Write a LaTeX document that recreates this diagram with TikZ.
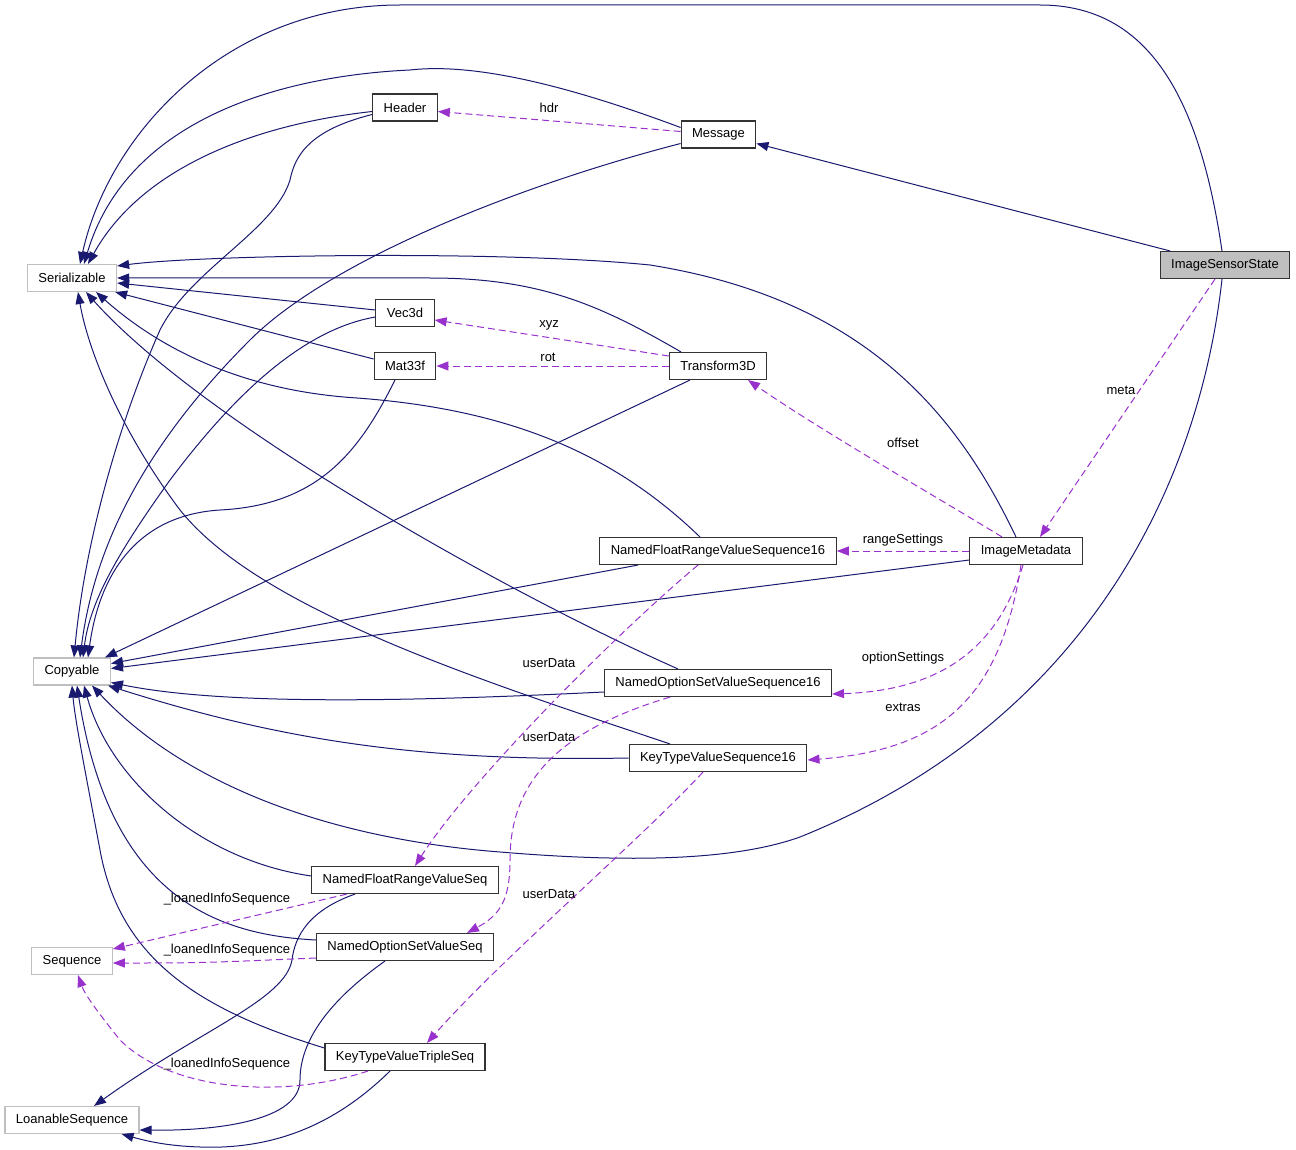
\documentclass[tikz,border=0pt]{standalone}
\usepackage{fontspec}
\setmainfont{Liberation Sans}
\usepackage{tikz}
\usetikzlibrary{arrows.meta}
\definecolor{edgeblue}{RGB}{25,25,112}
\definecolor{edgepurple}{RGB}{153,50,204}
\definecolor{extgray}{RGB}{191,191,191}
\tikzstyle{cls}=[rectangle, draw=black!80, fill=white, line width=1.1pt, minimum height=27pt, inner xsep=11pt, font=\fontsize{13}{15}\selectfont]
\tikzstyle{ext}=[cls, draw=extgray]
\tikzstyle{cur}=[cls, fill=extgray]
\tikzstyle{inh}=[draw=edgeblue, line width=1pt, -{Triangle[length=12pt,width=9pt]}]
\tikzstyle{mem}=[draw=edgepurple, line width=1pt, dash pattern=on 7pt off 4pt, -{Triangle[length=12pt,width=9pt]}]
\tikzstyle{lbl}=[font=\fontsize{13}{15}\selectfont, inner sep=0pt]

\begin{document}
\begin{tikzpicture}[x=1pt, y=-1pt]
  \useasboundingbox (0,0) rectangle (1296,1150);
  % classes
  \node[cur] (iss) at (1225,265) {ImageSensorState};
  \node[cls] (msg) at (718.5,134.5) {Message};
  \node[cls] (hdr) at (405,107.5) {Header};
  \node[ext] (ser) at (72,278) {Serializable};
  \node[cls] (vec) at (405,313) {Vec3d};
  \node[cls] (mat) at (405,366) {Mat33f};
  \node[cls] (tf) at (718,366) {Transform3D};
  \node[cls] (nfr16) at (718,551) {NamedFloatRangeValueSequence16};
  \node[cls] (meta) at (1026,551) {ImageMetadata};
  \node[ext] (copy) at (72,671.5) {Copyable};
  \node[cls] (nos16) at (718,683) {NamedOptionSetValueSequence16};
  \node[cls] (ktv16) at (718,758) {KeyTypeValueSequence16};
  \node[cls] (nfrseq) at (405,880) {NamedFloatRangeValueSeq};
  \node[cls] (nosseq) at (405,947) {NamedOptionSetValueSeq};
  \node[ext] (seq) at (72,961) {Sequence};
  \node[cls] (ktvseq) at (405,1057) {KeyTypeValueTripleSeq};
  \node[ext] (loan) at (72,1120) {LoanableSequence};

  % base classes
  \draw[inh] ([xshift=-3pt]iss.north) .. controls (1200,100) and (1150,5) .. (1040,5) -- (400,5) .. controls (230,5) and (110,130) .. ([xshift=8pt]ser.north);
  \draw[inh] ([xshift=-55pt]iss.north) -- ([yshift=-9pt]msg.east);
  \draw[inh] ([xshift=-3pt]iss.south) .. controls (1200,480) and (1090,720) .. (800,837) .. controls (730,862) and (620,862) .. (500,852) .. controls (320,838) and (180,780) .. ([xshift=20pt]copy.south);
  \draw[inh] ([yshift=7pt]msg.west) .. controls (580,90) and (480,62) .. (410,70) .. controls (300,75) and (130,110) .. ([xshift=12pt]ser.north);
  \draw[inh] ([yshift=-9pt]msg.west) .. controls (520,185) and (330,260) .. (250,340) .. controls (150,440) and (95,540) .. ([xshift=8pt]copy.north);
  \draw[inh] ([yshift=-4pt]hdr.west) .. controls (250,125) and (140,170) .. ([xshift=16pt]ser.north);
  \draw[inh] ([yshift=-7pt]hdr.west) .. controls (310,130) and (295,155) .. (290,180) .. controls (275,230) and (190,270) .. (160,330) .. controls (120,420) and (85,540) .. ([xshift=2pt]copy.north);
  \draw[inh] ([yshift=3pt]vec.west) -- ([yshift=-5pt]ser.east);
  \draw[inh] ([yshift=-4pt]vec.west) .. controls (300,330) and (230,400) .. (170,480) .. controls (120,550) and (90,600) .. ([xshift=11pt]copy.north);
  \draw[inh] ([yshift=7pt]mat.west) -- ([xshift=-2pt]ser.south east);
  \draw[inh] ([xshift=-10pt]mat.south) .. controls (360,450) and (320,505) .. (220,510) .. controls (140,515) and (100,570) .. ([xshift=16pt]copy.north);
  \draw[inh] ([xshift=-37pt]tf.north) .. controls (600,305) and (540,278) .. (430,278) -- (ser.east);
  \draw[inh] ([xshift=-28pt]tf.south) -- ([xshift=33pt]copy.north);
  \draw[inh] ([xshift=-10pt]meta.north) .. controls (960,420) and (870,300) .. (650,265) .. controls (500,250) and (200,255) .. ([yshift=12pt]ser.east);
  \draw[inh] ([yshift=-9pt]meta.west) -- ([yshift=3pt]copy.east);
  \draw[inh] ([xshift=-18pt]nfr16.north) .. controls (620,460) and (520,410) .. (357,398) .. controls (230,390) and (150,340) .. ([xshift=24pt]ser.south);
  \draw[inh] ([xshift=-80pt]nfr16.south) -- ([yshift=8pt]copy.east);
  \draw[inh] ([xshift=-40pt]nos16.north) .. controls (500,590) and (200,420) .. ([xshift=14pt]ser.south);
  \draw[inh] ([yshift=-9pt]nos16.west) .. controls (400,702) and (220,705) .. ([yshift=-11pt]copy.east);
  \draw[inh] ([xshift=-48pt]ktv16.north) .. controls (480,680) and (260,610) .. (180,510) .. controls (120,430) and (88,350) .. ([xshift=6pt]ser.south);
  \draw[inh] (ktv16.west) .. controls (420,762) and (280,740) .. ([xshift=-3pt]copy.south east);
  \draw[inh] ([yshift=4pt]nfrseq.west) .. controls (200,860) and (110,780) .. ([xshift=12pt]copy.south);
  \draw[inh] ([xshift=-50pt]nfrseq.south) .. controls (310,910) and (295,935) .. (292,960) .. controls (285,1000) and (200,1030) .. ([xshift=22pt]loan.north);
  \draw[inh] ([yshift=7pt]nosseq.west) .. controls (220,935) and (110,900) .. ([xshift=5pt]copy.south);
  \draw[inh] ([xshift=-20pt]nosseq.south) .. controls (330,1000) and (300,1040) .. (300,1080) .. controls (300,1120) and (220,1131) .. ([yshift=-10pt]loan.east);
  \draw[inh] ([yshift=9pt]ktvseq.west) .. controls (200,1010) and (120,960) .. (100,850) .. controls (85,770) and (75,720) .. (copy.south);
  \draw[inh] ([xshift=-15pt]ktvseq.south) .. controls (340,1120) and (280,1150) .. (200,1147) .. controls (170,1146) and (150,1142) .. ([xshift=-18pt]loan.south east);

  % members
  \draw[mem] ([yshift=3pt]msg.west) -- ([yshift=-4pt]hdr.east);
  \node[lbl] (lhdr) at (549,108) {hdr};
  \draw[mem] ([yshift=10pt]tf.west) -- ([yshift=-7pt]vec.east);
  \node[lbl] (lxyz) at (549,325) {xyz};
  \draw[mem] (tf.west) -- (mat.east);
  \node[lbl] (lrot) at (548,357) {rot};
  \draw[mem] ([xshift=-10pt]iss.south) -- ([xshift=14pt]meta.north);
  \node[lbl] (lmeta) at (1121,390) {meta};
  \draw[mem] ([xshift=-24pt]meta.north) .. controls (950,505) and (820,430) .. ([xshift=30pt]tf.south);
  \node[lbl] (loff) at (903,443) {offset};
  \draw[mem] (meta.west) -- (nfr16.east);
  \node[lbl] (lrange) at (903,540) {rangeSettings};
  \draw[mem] ([xshift=-3pt]meta.south) .. controls (1000,640) and (950,690) .. ([yshift=-11pt]nos16.east);
  \node[lbl] (lopt) at (903,658) {optionSettings};
  \draw[mem] ([xshift=-5pt]meta.south) .. controls (1000,700) and (940,750) .. ([yshift=-2pt]ktv16.east);
  \node[lbl] (lext) at (903,707) {extras};
  \draw[mem] ([xshift=-20pt]nfr16.south) .. controls (620,630) and (470,780) .. ([xshift=10pt]nfrseq.north);
  \node[lbl] (lud1) at (549,663) {userData};
  \draw[mem] ([xshift=-48pt]nos16.south) .. controls (560,730) and (510,780) .. (510,860) .. controls (510,900) and (500,915) .. ([xshift=62pt]nosseq.north);
  \node[lbl] (lud2) at (549,737) {userData};
  \draw[mem] ([xshift=-15pt]ktv16.south) .. controls (640,840) and (500,960) .. ([xshift=22pt]ktvseq.north);
  \node[lbl] (lud3) at (549,894) {userData};
  \draw[mem] ([xshift=-58pt]nfrseq.south) -- ([yshift=12pt]seq.east);
  \node[lbl] (lloan1) at (227,899) {\_loanedInfoSequence};
  \draw[mem] ([yshift=-11pt]nosseq.west) .. controls (200,963) .. ([yshift=-2pt]seq.east);
  \node[lbl] (lloan2) at (227,950) {\_loanedInfoSequence};
  \draw[mem] ([xshift=-37pt]ktvseq.south) .. controls (280,1100) and (170,1090) .. (120,1040) .. controls (100,1015) and (85,995) .. ([xshift=6pt]seq.south);
  \node[lbl] (lloan3) at (227,1064) {\_loanedInfoSequence};
\end{tikzpicture}
\end{document}
